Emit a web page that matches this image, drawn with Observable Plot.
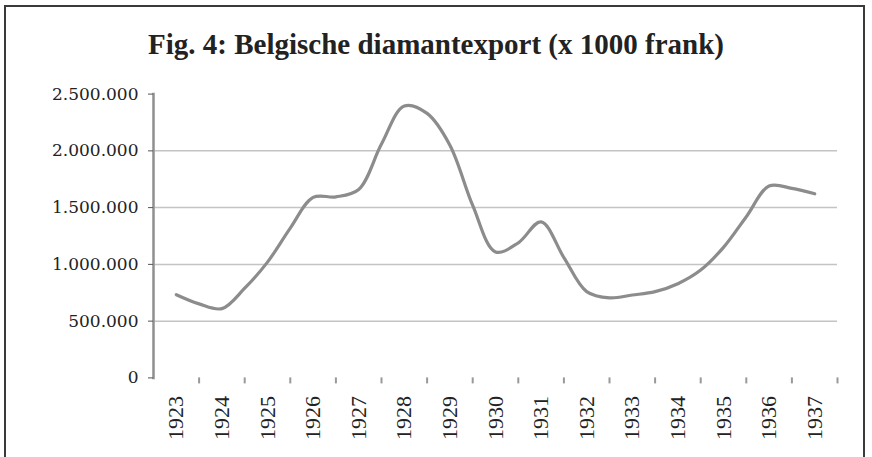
<!DOCTYPE html>
<html>
<head>
<meta charset="utf-8">
<script src="https://cdn.jsdelivr.net/npm/d3@7"></script>
<script src="https://cdn.jsdelivr.net/npm/@observablehq/plot@0.6"></script>
<style>
  html, body { margin: 0; padding: 0; background: #fff; }
  #wrap { position: relative; width: 872px; height: 457px; overflow: hidden; }
  #frame { position: absolute; left: 4px; top: 5px; width: 861px; height: 470px;
           border: 2px solid #3a3a3a; border-bottom: none; box-sizing: border-box; }
  #title { position: absolute; left: 0; top: 28px; width: 872px; text-align: center;
           font-family: "Liberation Serif", serif; font-weight: bold; font-size: 29px; color: #222; }
  #chart { position: absolute; left: 0; top: 80px; }
</style>
</head>
<body>
<div id="wrap">
  <div id="frame"></div>
  <div id="title">Fig. 4: Belgische diamantexport (x 1000 frank)</div>
  <div id="chart"></div>
</div>
<script>
// Tick labels (categories)
const yearLabels = [1923, 1924, 1925, 1926, 1927, 1928, 1929, 1930, 1931, 1932, 1933, 1934, 1935, 1936, 1937];
// Half-yearly positions of the series
const periods = [1923, 1923.5, 1924, 1924.5, 1925, 1925.5, 1926, 1926.5, 1927, 1927.5,
                 1928, 1928.5, 1929, 1929.5, 1930, 1930.5, 1931, 1931.5, 1932, 1932.5,
                 1933, 1933.5, 1934, 1934.5, 1935, 1935.5, 1936, 1936.5, 1937];
// Export values (x 1000 frank)
const exportValues = [733000, 652000, 610000, 790000, 1020000, 1320000, 1590000, 1595000, 1660000, 2060000,
                      2395000, 2330000, 2050000, 1520000, 1110000, 1190000, 1375000, 1060000, 760000, 705000,
                      730000, 760000, 830000, 950000, 1150000, 1420000, 1690000, 1670000, 1622000];
const yTicks = [0, 500000, 1000000, 1500000, 2000000, 2500000];
const gridValues = [500000, 1000000, 1500000, 2000000];

const data = periods.map((p, i) => ({period: p, value: exportValues[i]}));
const fmt = d3.formatLocale({thousands: ".", decimal: ",", grouping: [3], currency: ["", ""]}).format(",d");
const boundaries = yearLabels.map(y => y + 0.5);

const chart = Plot.plot({
  width: 872,
  height: 377,
  marginLeft: 153,
  marginRight: 35,
  marginTop: 13.6,
  marginBottom: 79.6,
  style: {background: "transparent", color: "#222"},
  x: {type: "linear", domain: [yearLabels[0] - 0.5, yearLabels[yearLabels.length - 1] + 0.5], label: null},
  y: {domain: [0, 2500000], label: null},
  marks: [
    Plot.gridY(gridValues, {stroke: "#c4c4c4", strokeOpacity: 1, strokeWidth: 1.5}),
    Plot.frame({anchor: "left", stroke: "#8f8f8f", strokeWidth: 2.5}),
    Plot.axisY(yTicks, {tickSize: 5, tickPadding: 10, tickFormat: fmt, stroke: "#555", label: null,
                        fontSize: 17, fontFamily: "DejaVu Serif", fill: "#222", letterSpacing: "1.5px"}),
    Plot.axisX(boundaries, {tickSize: 6, tickFormat: () => "", stroke: "#999", strokeWidth: 2, label: null}),
    Plot.axisX(yearLabels, {tickSize: 0, tickPadding: 18, tickRotate: -90, tickFormat: d => String(d), label: null,
                            fontSize: 22, fontFamily: "Liberation Serif", fill: "#222"}),
    Plot.line(data, {x: "period", y: "value", curve: "catmull-rom", stroke: "#8c8c8c", strokeWidth: 3.2})
  ]
});
document.getElementById("chart").appendChild(chart);
</script>
</body>
</html>
